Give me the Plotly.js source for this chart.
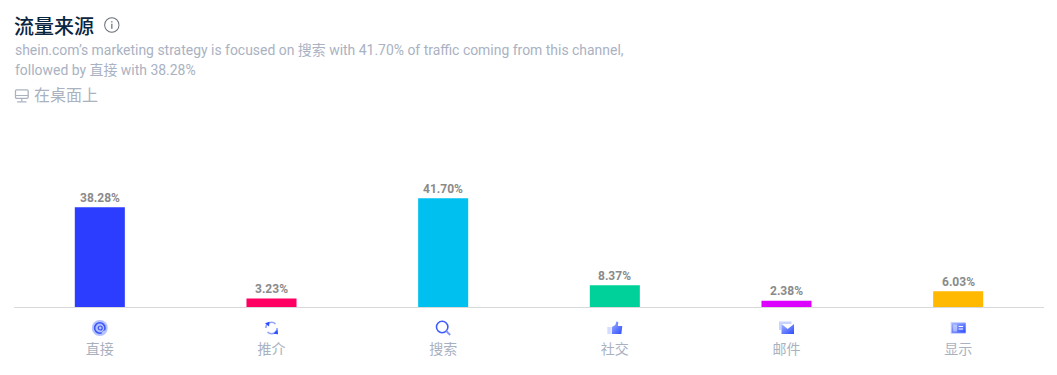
<!DOCTYPE html>
<html>
<head>
<meta charset="utf-8">
<script src="https://cdn.plot.ly/plotly-3.0.1.min.js"></script>
<style>html,body{margin:0;padding:0;background:#fff;overflow:hidden}#chart{width:1057px;height:375px}</style>
</head>
<body>
<div id="chart"></div>
<script>
const categories = ['直接', '推介', '搜索', '社交', '邮件', '显示'];
const values = [38.28, 3.23, 41.70, 8.37, 2.38, 6.03];
const colors = ['#2d3dff', '#ff0062', '#00c0ef', '#00d19a', '#dc00ff', '#ffb900'];
const labels = ['38.28%', '3.23%', '41.70%', '8.37%', '2.38%', '6.03%'];
const titleText = '流量来源';
const subtitle1 = 'shein.com’s marketing strategy is focused on 搜索 with 41.70% of traffic coming from this channel,';
const subtitle2 = 'followed by 直接 with 38.28%';
const deviceText = '在桌面上';

const cjk = 'Roboto, "Noto Sans CJK SC", sans-serif';
const W = 1057, H = 375;
const uri = s => 'data:image/svg+xml;utf8,' + encodeURIComponent(s);
const svg = b => `<svg xmlns="http://www.w3.org/2000/svg" width="64" height="64" viewBox="0 0 16 16">${b}</svg>`;
const defs = `<defs><linearGradient id="g" x1="0" y1="0" x2="1" y2="1"><stop offset="0" stop-color="#9fb0ff"/><stop offset="1" stop-color="#2d4dff"/></linearGradient></defs>`;
const icons = [
  svg(defs + '<circle cx="8" cy="8" r="8" fill="#b4c3ff"/><circle cx="8" cy="8" r="5.2" fill="none" stroke="#3b55f5" stroke-width="1.6"/><circle cx="8.4" cy="8" r="2" fill="none" stroke="#3b55f5" stroke-width="1.2"/><path d="M10 13 L14 11" stroke="#b4c3ff" stroke-width="2"/>'),
  svg(defs + '<path d="M2.4 8 A5.6 5.6 0 0 1 12 4" fill="none" stroke="#93a6ff" stroke-width="1.7"/><path d="M13.6 8 A5.6 5.6 0 0 1 4 12" fill="none" stroke="#93a6ff" stroke-width="1.7"/><path d="M1.5 3.2 L6 1.8 L5.6 6.4 Z" fill="#2d4dff"/><path d="M10 13.8 L14.6 14.2 L14 9.6 Z" fill="#2d4dff"/>'),
  svg(defs + '<circle cx="7" cy="7" r="5.7" fill="none" stroke="#3d5bff" stroke-width="1.6"/><path d="M11 11 L15 15" stroke="#7f94ff" stroke-width="1.8"/>'),
  svg(defs + '<rect x="0.5" y="7" width="3.5" height="7" fill="#d5dcff"/><path d="M5 7 L8.5 5 L9.5 1.5 L11.5 2 L11 6 H15.5 L14.5 14 H5 Z" fill="url(#g)"/>'),
  svg(defs + '<path d="M0.5 1.5 H13 V4 H3 V10 H0.5 Z" fill="#c9d3ff"/><rect x="3" y="4" width="12.5" height="10" fill="url(#g)"/><path d="M3 4 L9.2 9 L15.5 4 Z" fill="#fff"/>'),
  svg(defs + '<rect x="0.5" y="2" width="15" height="12" fill="#c9d3ff"/><rect x="1.5" y="3.2" width="14" height="9.6" fill="url(#g)"/><rect x="3" y="4.5" width="4" height="7" fill="#e4e9ff" opacity="0.55"/><path d="M8.5 6.5 H13 M8.5 9 H13" stroke="#fff" stroke-width="1"/>')
];
const infoIcon = `<svg xmlns="http://www.w3.org/2000/svg" width="64" height="64" viewBox="0 0 16 16"><circle cx="8" cy="8" r="7.2" fill="none" stroke="#666d78" stroke-width="1"/><rect x="7.4" y="6.8" width="1.2" height="5" fill="#666d78"/><rect x="7.4" y="4.2" width="1.2" height="1.3" fill="#666d78"/></svg>`;
const deskIcon = `<svg xmlns="http://www.w3.org/2000/svg" width="64" height="64" viewBox="0 0 16 16"><rect x="1.2" y="1.5" width="13.6" height="9" rx="1.4" fill="none" stroke="#aab2c0" stroke-width="1.4"/><path d="M1.2 7.4 H14.8" stroke="#aab2c0" stroke-width="1.2"/><path d="M8 10.5 V13.5" stroke="#aab2c0" stroke-width="1.3"/><path d="M3 14.3 H13" stroke="#aab2c0" stroke-width="1.5"/></svg>`;

const l = 14.2, r = 13.2, t = 127, b = 68;
const plotW = W - l - r, plotH = H - t - b;
// paper coordinates relative to the plot area
const abs = (x, y) => ({x: (x - l) / plotW, y: (H - b - y) / plotH});

const anns = [
  [titleText, 13.4, 26.5, 20, '#092540', 500],
  [subtitle1, 14, 50.5, 13.95, '#aab2c2', 400],
  [subtitle2, 14, 69.5, 13.95, '#aab2c2', 400],
  [deviceText, 33.5, 96, 16, '#aab2c0', 400]
].map(a => {
  const p = abs(a[1], a[2]);
  return {text: a[0], xref: 'paper', yref: 'paper', x: p.x, y: p.y, showarrow: false, xanchor: 'left', yanchor: 'middle',
    borderpad: 0, font: {family: cjk, size: a[3], color: a[4], weight: a[5]}};
});
// value labels above each bar, anchored to the data
categories.forEach((c, i) => anns.push({
  text: labels[i], xref: 'x', yref: 'y', x: c, y: values[i], yanchor: 'bottom', xanchor: 'center', showarrow: false,
  yshift: 1.5, borderpad: 0, font: {family: 'Roboto, sans-serif', size: 12, color: '#8a8a8a', weight: 700}
}));

const images = icons.map((s, i) => {
  const p = abs(0, 328);
  return {source: uri(s), xref: 'x', yref: 'paper', x: categories[i], y: p.y, sizex: 0.0933, sizey: 16 / plotH,
    xanchor: 'center', yanchor: 'middle', layer: 'above', sizing: 'contain'};
});
const infoP = abs(112, 25), deskP = abs(22, 96);
images.push({source: uri(infoIcon), xref: 'paper', yref: 'paper', x: infoP.x, y: infoP.y, sizex: 16 / plotW, sizey: 16 / plotH, xanchor: 'center', yanchor: 'middle', sizing: 'contain'});
images.push({source: uri(deskIcon), xref: 'paper', yref: 'paper', x: deskP.x, y: deskP.y, sizex: 15 / plotW, sizey: 15 / plotH, xanchor: 'center', yanchor: 'middle', sizing: 'contain'});

Plotly.newPlot('chart', [{
  type: 'bar', x: categories, y: values, width: 0.2915,
  marker: {color: colors, line: {width: 0}},
  hoverinfo: 'x+y'
}], {
  width: W, height: H,
  margin: {l, r, t, b, pad: 0},
  paper_bgcolor: '#fff', plot_bgcolor: '#fff', showlegend: false,
  xaxis: {type: 'category', categoryorder: 'array', categoryarray: categories, range: [-0.5, 5.5], fixedrange: true,
    showline: true, linecolor: '#d9d9d9', linewidth: 1, showgrid: false, zeroline: false, ticks: '',
    ticklabelstandoff: 29, tickfont: {family: cjk, size: 14, color: '#a9b1bf'}},
  yaxis: {range: [0, 69], visible: false, showgrid: false, zeroline: false, fixedrange: true},
  annotations: anns, images
}, {displayModeBar: false, responsive: false});
</script>
</body>
</html>
